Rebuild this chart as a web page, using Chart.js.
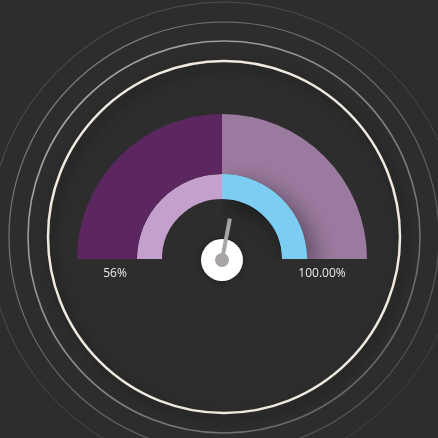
<!DOCTYPE html>
<html>
<head>
<meta charset="utf-8">
<script src="https://cdn.jsdelivr.net/npm/chart.js@4/dist/chart.umd.min.js"></script>
<style>
  html, body { margin: 0; padding: 0; background: #2d2d2d; }
  canvas { display: block; }
</style>
</head>
<body>
<canvas id="gaugeChart" width="438" height="438"></canvas>
<script>
// Gauge data
const bandLabels = ['Lower half', 'Upper half'];
const outerValues = [50, 50];
const innerValues = [50, 50];
const needleValue = 56;
const gaugeMax = 100;
const minLabel = '56%';
const maxLabel = '100.00%';

// Decorative rings behind the gauge
const ringsPlugin = {
  id: 'rings',
  beforeDraw(chart) {
    const ctx = chart.ctx;
    const cx = 224, cy = 237;
    ctx.save();
    // faint outer rings, brighter towards the top left
    const rings = [
      { r: 235, w: 1, a: 0.22 },
      { r: 215, w: 1.2, a: 0.45 },
      { r: 196, w: 1.6, a: 0.7 }
    ];
    rings.forEach(ring => {
      const g = ctx.createLinearGradient(cx - ring.r, cy - ring.r, cx + ring.r, cy + ring.r);
      g.addColorStop(0, 'rgba(240,235,225,' + ring.a + ')');
      g.addColorStop(0.6, 'rgba(240,235,225,' + (ring.a * 0.6) + ')');
      g.addColorStop(1, 'rgba(240,235,225,' + (ring.a * 0.35) + ')');
      ctx.beginPath();
      ctx.arc(cx, cy, ring.r, 0, Math.PI * 2);
      ctx.strokeStyle = g;
      ctx.lineWidth = ring.w;
      ctx.stroke();
    });
    // main bright ring with shadow
    ctx.shadowColor = 'rgba(0,0,0,0.6)';
    ctx.shadowBlur = 12;
    ctx.shadowOffsetX = 4;
    ctx.shadowOffsetY = 5;
    ctx.beginPath();
    ctx.arc(cx, cy, 176, 0, Math.PI * 2);
    ctx.strokeStyle = '#efe9df';
    ctx.lineWidth = 2.5;
    ctx.stroke();
    ctx.restore();
  }
};

// Soft shadow cast by the blue part of the inner ring onto the outer ring
// (datasets are painted last-to-first, so this runs once all are drawn)
const ringShadowPlugin = {
  id: 'ringShadow',
  afterDatasetsDraw(chart) {
    const el = chart.getDatasetMeta(1).data[1];
    const ctx = chart.ctx;
    ctx.save();
    ctx.beginPath();
    ctx.rect(el.x, 0, chart.width - el.x, el.y);
    ctx.clip();
    ctx.shadowColor = 'rgba(0,0,0,0.45)';
    ctx.shadowBlur = 22;
    ctx.shadowOffsetX = 8;
    ctx.shadowOffsetY = 8;
    el.draw(ctx);
    ctx.restore();
  }
};

// Needle, hub and end labels
const needlePlugin = {
  id: 'needle',
  afterDraw(chart) {
    const ctx = chart.ctx;
    const arc = chart.getDatasetMeta(0).data[0];
    const cx = arc.x, cy = arc.y;
    const angle = Math.PI + (needleValue / gaugeMax) * Math.PI;
    ctx.save();

    // hub
    ctx.shadowColor = 'rgba(0,0,0,0.35)';
    ctx.shadowBlur = 6;
    ctx.beginPath();
    ctx.arc(cx, cy + 1, 21, 0, Math.PI * 2);
    ctx.fillStyle = '#ffffff';
    ctx.fill();
    ctx.shadowColor = 'transparent';

    // needle
    ctx.beginPath();
    ctx.moveTo(cx, cy + 1);
    ctx.lineTo(cx + Math.cos(angle) * 42, cy + 1 + Math.sin(angle) * 42);
    ctx.strokeStyle = '#a9a5a5';
    ctx.lineWidth = 4;
    ctx.lineCap = 'butt';
    ctx.stroke();

    ctx.beginPath();
    ctx.arc(cx, cy + 1, 7, 0, Math.PI * 2);
    ctx.fillStyle = '#a9a5a5';
    ctx.fill();

    // labels
    ctx.font = '12px "Open Sans", sans-serif';
    ctx.fillStyle = '#ebebeb';
    ctx.textAlign = 'center';
    ctx.textBaseline = 'middle';
    ctx.fillText(minLabel, cx - 107, cy + 15);
    ctx.fillText(maxLabel, cx + 100, cy + 15);
    ctx.restore();
  }
};

const chart = new Chart(document.getElementById('gaugeChart'), {
  type: 'doughnut',
  data: {
    labels: bandLabels,
    datasets: [
      {
        data: outerValues,
        backgroundColor: ['#5c2660', '#9a7a9e'],
        borderWidth: 0,
        weight: 60
      },
      {
        data: innerValues,
        backgroundColor: ['#c4a0cc', '#7dcdf2'],
        borderWidth: 0,
        weight: 25
      }
    ]
  },
  options: {
    responsive: false,
    animation: false,
    devicePixelRatio: 1,
    rotation: -90,
    circumference: 180,
    radius: 145,
    cutout: '41.4%',
    layout: {
      padding: { left: 6, right: 0, top: 0, bottom: 65 }
    },
    plugins: {
      legend: { display: false },
      tooltip: { enabled: false }
    }
  },
  plugins: [ringsPlugin, ringShadowPlugin, needlePlugin]
});
</script>
</body>
</html>
